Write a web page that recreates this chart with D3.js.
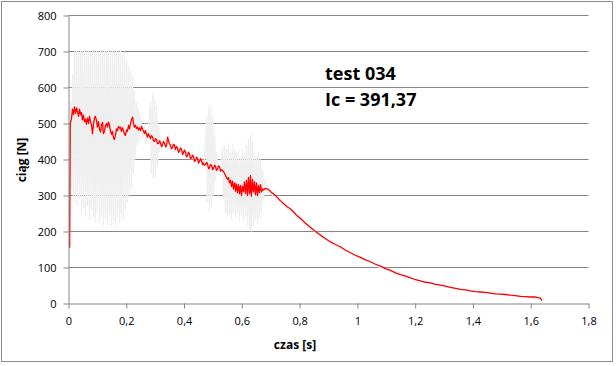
<!DOCTYPE html>
<html>
<head>
<meta charset="utf-8">
<script src="https://cdn.jsdelivr.net/npm/d3@7"></script>
<style>
  body { margin: 0; background: #fff; }
  text { font-family: "Open Sans", sans-serif; }
</style>
</head>
<body>
<div id="chart"></div>
<script>
// czas [s] / ciąg [N] - red = measured force, gray = raw signal
const redT = [0.004,0.006,0.010,0.014,0.017,0.021,0.024,0.028,0.031,0.035,0.038,0.042,0.045,0.048,0.052,0.055,0.059,0.062,0.066,0.069,
  0.073,0.076,0.080,0.083,0.087,0.090,0.093,0.097,0.100,0.104,0.107,0.111,0.114,0.118,0.121,0.125,0.128,0.132,0.135,0.138,
  0.142,0.145,0.149,0.152,0.156,0.159,0.163,0.166,0.170,0.173,0.177,0.180,0.183,0.187,0.190,0.194,0.197,0.201,0.204,0.208,
  0.211,0.215,0.218,0.222,0.225,0.228,0.232,0.235,0.239,0.242,0.246,
  0.249,0.253,0.256,0.260,0.263,0.266,0.270,0.273,0.277,0.280,0.284,0.287,0.291,0.294,0.298,0.301,0.305,0.308,0.312,0.315,
  0.318,0.322,0.325,0.329,0.332,0.336,0.339,0.343,0.346,0.349,0.353,0.356,0.360,0.363,0.367,0.370,0.374,0.377,0.381,0.384,
  0.388,0.391,0.395,0.398,0.401,0.405,0.408,0.412,0.415,0.419,0.422,0.426,0.429,0.433,0.436,0.440,0.443,0.447,0.450,0.453,
  0.457,0.460,0.464,0.467,0.471,0.474,0.478,0.481,0.485,0.488,0.492,0.495,0.499,0.502,0.506,0.509,0.512,0.516,0.519,0.523,
  0.526,0.530,
  0.537,0.543,0.550,0.554,0.557,0.561,0.564,
  0.568,0.571,0.575,0.578,0.581,0.585,0.588,0.592,0.595,0.599,0.602,0.606,0.609,0.613,0.616,0.620,0.623,0.627,0.630,0.633,
  0.637,0.640,0.644,0.647,0.651,0.654,0.658,0.661,0.665,0.668,0.672,0.675,0.682,0.689,0.696,0.703,0.710,0.717,0.723,0.730,
  0.737,0.744,0.751,0.758,0.768,0.779,0.789,0.803,0.820,0.838,0.855,0.872,0.890,0.907,0.924,0.942,0.959,0.976,0.993,1.011,
  1.028,1.045,1.063,1.080,1.097,1.115,1.132,1.149,1.167,1.184,1.201,1.218,1.236,1.253,1.270,1.288,1.305,1.322,1.340,1.357,
  1.374,1.391,1.409,1.426,1.443,1.461,1.478,1.495,1.513,1.530,1.547,1.565,1.582,1.599,1.617,1.627,1.634,1.639];
const redF = [155,500,512,540,525,546,528,543,533,520,540,525,530,510,523,505,512,498,515,500,
  520,505,495,472,500,515,520,508,490,505,485,476,495,503,472,480,495,500,490,504,
  495,480,470,478,459,456,470,485,480,492,487,490,478,488,480,470,467,482,478,495,
  485,500,510,518,500,490,495,486,490,482,488,
  480,492,484,478,472,480,470,462,472,465,458,466,462,452,450,458,455,444,445,452,
  448,436,440,450,446,435,438,462,452,444,440,430,432,442,440,428,436,432,420,424,
  432,428,414,418,426,422,408,410,420,416,402,404,412,408,395,398,406,403,390,394,
  402,398,386,390,384,386,392,388,374,378,386,384,372,376,384,381,370,374,382,380,
  368,372,
  366,356,345,350,335,342,325,
  340,318,335,312,332,308,330,305,328,300,326,310,338,305,342,300,350,305,355,298,
  345,310,338,302,335,300,328,308,330,310,318,315,320,318,314,308,304,300,294,288,
  283,278,273,268,263,254,246,236,223,211,200,190,180,171,164,157,148,141,134,128,
  121,116,109,104,97,92,85,80,76,71,66,63,59,57,53,51,48,45,42,39,
  38,35,33,32,31,29,27,26,25,23,22,20,19,18,18,16,14,8];

const grayT = [0.003,0.007,0.010,0.014,0.017,0.021,0.024,0.028,0.031,0.035,0.038,0.042,0.045,0.048,0.052,0.055,0.059,0.062,0.066,0.069,
  0.073,0.076,0.080,0.083,0.087,0.090,0.093,0.097,0.100,0.104,0.107,0.111,0.114,0.118,0.121,0.125,0.128,0.132,0.135,0.138,
  0.142,0.145,0.149,0.152,0.156,0.159,0.163,0.166,0.170,0.173,0.177,0.180,0.183,0.187,0.190,0.194,0.197,0.201,0.204,0.208,
  0.211,0.215,0.218,0.222,0.225,0.228,0.232,0.235,0.239,0.242,0.246,0.249,0.256,0.263,0.270,0.277,0.284,0.287,0.291,0.294,
  0.298,0.301,0.305,0.308,0.312,0.315,0.318,0.325,0.332,0.339,0.346,0.353,0.360,0.367,0.374,0.381,0.388,0.395,0.401,0.408,
  0.415,0.422,0.429,0.436,0.443,0.450,0.457,0.464,0.471,0.478,0.481,0.485,0.488,0.492,0.495,0.499,0.502,0.506,0.509,0.512,
  0.519,0.526,0.533,0.537,0.540,0.543,0.547,0.550,0.554,0.557,0.561,0.564,0.568,0.571,0.575,0.578,0.581,0.585,0.588,0.592,
  0.595,0.599,0.602,0.606,0.609,0.613,0.616,0.620,0.623,0.627,0.630,0.633,0.637,0.640,0.644,0.647,0.651,0.654,0.658,0.661,
  0.665,0.668,0.672,0.675,0.679,0.685,0.692,0.699,0.706,0.713,0.720,0.727,0.734,0.747,0.761,0.775,0.789,0.803,0.838,0.872,
  0.907,0.924,0.942,0.976,1.011,1.045,1.063,1.080,1.149,1.218,1.288,1.357,1.426,1.495,1.565,1.634,1.639];
const grayF = [160,560,320,640,290,700,280,705,270,700,290,705,250,700,265,705,240,700,270,705,
  230,700,260,705,240,700,225,705,255,700,222,705,240,700,215,705,235,700,218,705,
  245,700,215,705,230,700,212,705,240,700,225,705,250,690,230,700,260,680,280,660,
  300,650,320,630,360,590,400,560,440,540,450,520,455,500,445,490,560,360,583,345,
  570,350,550,380,500,420,465,430,460,425,470,430,445,425,440,415,440,410,430,405,
  425,400,420,395,410,390,405,385,400,520,280,550,260,550,270,520,300,470,340,420,
  370,390,430,290,440,250,430,240,445,245,420,235,440,250,430,240,420,250,425,230,
  410,245,430,225,420,240,440,215,460,205,472,200,450,215,420,230,410,220,420,235,
  400,250,370,290,340,330,305,320,300,310,285,295,275,278,258,262,240,240,210,188,
  172,160,158,140,125,118,105,100,80,63,50,40,32,26,20,14,2];

const yTicks = [0, 100, 200, 300, 400, 500, 600, 700, 800];
const xTicks = [0, 0.2, 0.4, 0.6, 0.8, 1, 1.2, 1.4, 1.6, 1.8];
const titleLines = ["test 034", "Ic = 391,37"];
const xTitle = "czas [s]";
const yTitle = "ciąg [N]";

const width = 616, height = 366;
const plot = {left: 68.5, right: 588.5, top: 15.5, bottom: 303.5};

const pl = d3.formatLocale({decimal: ",", thousands: " ", grouping: [3], currency: ["", ""]});
const fmtX = pl.format(".1~f");

const x = d3.scaleLinear().domain([0, 1.8]).range([plot.left, plot.right]);
const y = d3.scaleLinear().domain([0, 800]).range([plot.bottom, plot.top]);

const svg = d3.select("#chart").append("svg")
    .attr("width", width)
    .attr("height", height);

// outer frame
svg.append("rect")
    .attr("x", 1.5).attr("y", 1.5)
    .attr("width", 611).attr("height", 360)
    .attr("fill", "#fff")
    .attr("stroke", "#8c8c8c");

// horizontal gridlines
svg.append("g").selectAll("line")
    .data(yTicks.filter(d => d > 0))
    .join("line")
    .attr("x1", plot.left).attr("x2", plot.right)
    .attr("y1", d => y(d)).attr("y2", d => y(d))
    .attr("stroke", "#868686");

// series: raw signal under, force on top
const line = d3.line().x(d => x(d[0])).y(d => y(d[1]));

svg.append("path")
    .datum(d3.zip(grayT, grayF))
    .attr("d", line)
    .attr("fill", "none")
    .attr("stroke", "#efefef")
    .attr("stroke-width", 1.4);

svg.append("path")
    .datum(d3.zip(redT, redF))
    .attr("d", line)
    .attr("fill", "none")
    .attr("stroke", "#ff0000")
    .attr("stroke-width", 1.3)
    .attr("stroke-linejoin", "round");

// axes
const xAxis = svg.append("g")
    .attr("transform", `translate(0,${plot.bottom})`)
    .call(d3.axisBottom(x).tickValues(xTicks).tickFormat(fmtX).tickSize(5).tickPadding(9).tickSizeOuter(0));

const yAxis = svg.append("g")
    .attr("transform", `translate(${plot.left},0)`)
    .call(d3.axisLeft(y).tickValues(yTicks).tickSize(5).tickPadding(7).tickSizeOuter(0));

[xAxis, yAxis].forEach(g => {
    g.select(".domain").attr("stroke", "#868686");
    g.selectAll(".tick line").attr("stroke", "#868686");
    g.selectAll(".tick text")
        .attr("fill", "#000")
        .style("font-size", "11px")
        .style("font-family", "'Open Sans', sans-serif");
});

// axis titles
svg.append("text")
    .attr("x", 295).attr("y", 349)
    .attr("text-anchor", "middle")
    .style("font-size", "12px").style("font-weight", "bold")
    .text(xTitle);

svg.append("text")
    .attr("transform", "translate(26,160) rotate(-90)")
    .attr("text-anchor", "middle")
    .style("font-size", "12px").style("font-weight", "bold")
    .text(yTitle);

// annotation
svg.append("g").selectAll("text")
    .data(titleLines)
    .join("text")
    .attr("x", 325)
    .attr("y", (d, i) => 80 + i * 26)
    .style("font-size", "18px").style("font-weight", "bold")
    .text(d => d);
</script>
</body>
</html>
